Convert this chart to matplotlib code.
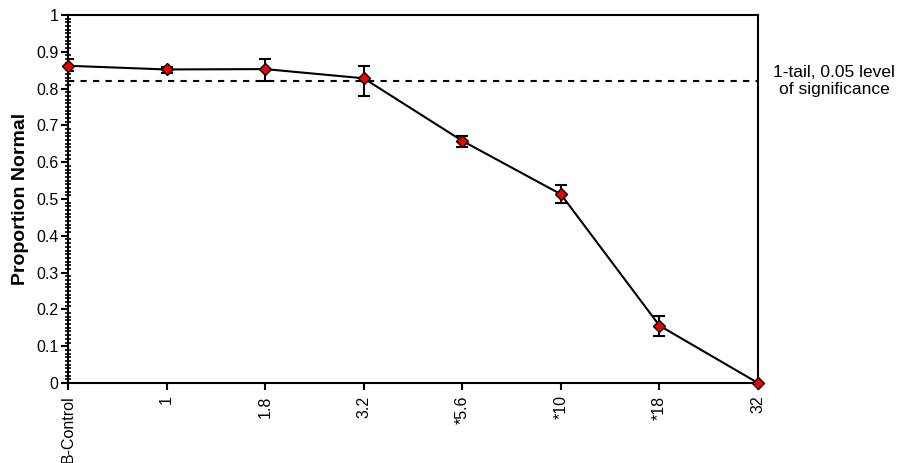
import numpy as np
import matplotlib.pyplot as plt
from matplotlib.ticker import MultipleLocator

plt.rcParams['font.family'] = ['Liberation Sans', 'DejaVu Sans']

# data
conc = ['B-Control', '1', '1.8', '3.2', '*5.6', '*10', '*18', '32']
prop = [0.862, 0.852, 0.853, 0.828, 0.658, 0.513, 0.156, 0.0]
err_lo = [0.015, 0.010, 0.032, 0.048, 0.017, 0.025, 0.027, 0.0]
err_hi = [0.018, 0.008, 0.027, 0.033, 0.013, 0.025, 0.026, 0.0]
sig_level = 0.82
yticks = [0, 0.1, 0.2, 0.3, 0.4, 0.5, 0.6, 0.7, 0.8, 0.9, 1]
ylabels = ['0', '0.1', '0.2', '0.3', '0.4', '0.5', '0.6', '0.7', '0.8', '0.9', '1']

xpos = np.arange(len(conc))

fig = plt.figure(figsize=(9.03, 4.63), dpi=100)
ax = fig.add_axes([0.0753, 0.1728, 0.7641, 0.7948])

ax.errorbar(xpos, prop, yerr=[err_lo, err_hi], fmt='none', ecolor='k',
            elinewidth=1.5, capsize=4.5, capthick=1.5, zorder=2)
ax.plot(xpos, prop, '-', color='k', lw=1.5, marker='D', markersize=6.5,
        markerfacecolor='#ee0000', markeredgecolor='k', markeredgewidth=1.0,
        zorder=3, clip_on=False)
ax.axhline(sig_level, color='k', lw=1.5, linestyle=(0, (3, 3)), zorder=1)

ax.annotate('1-tail, 0.05 level\nof significance', xy=(1.11, sig_level),
            xycoords=('axes fraction', 'data'), ha='center', va='center',
            fontsize=12.5, linespacing=1.15, annotation_clip=False)

ax.set_xlim(0, len(conc) - 1)
ax.set_ylim(0, 1)
ax.set_xticks(xpos)
ax.set_xticklabels(conc, rotation=90, fontsize=11.5)
ax.set_yticks(yticks)
ax.set_yticklabels(ylabels, fontsize=11.5)
ax.yaxis.set_minor_locator(MultipleLocator(0.01))
ax.tick_params(axis='y', which='major', direction='out', length=5, width=1.5, pad=2)
ax.tick_params(axis='y', which='minor', direction='inout', length=5, width=1.2)
ax.tick_params(axis='x', which='major', direction='out', length=5, width=1.5, pad=4)
ax.set_ylabel('Proportion Normal', fontsize=14, fontweight='bold')
ax.yaxis.set_label_coords(-0.056, 0.5)

for sp in ax.spines.values():
    sp.set_linewidth(1.5)

fig.savefig('out.png', dpi=100)
